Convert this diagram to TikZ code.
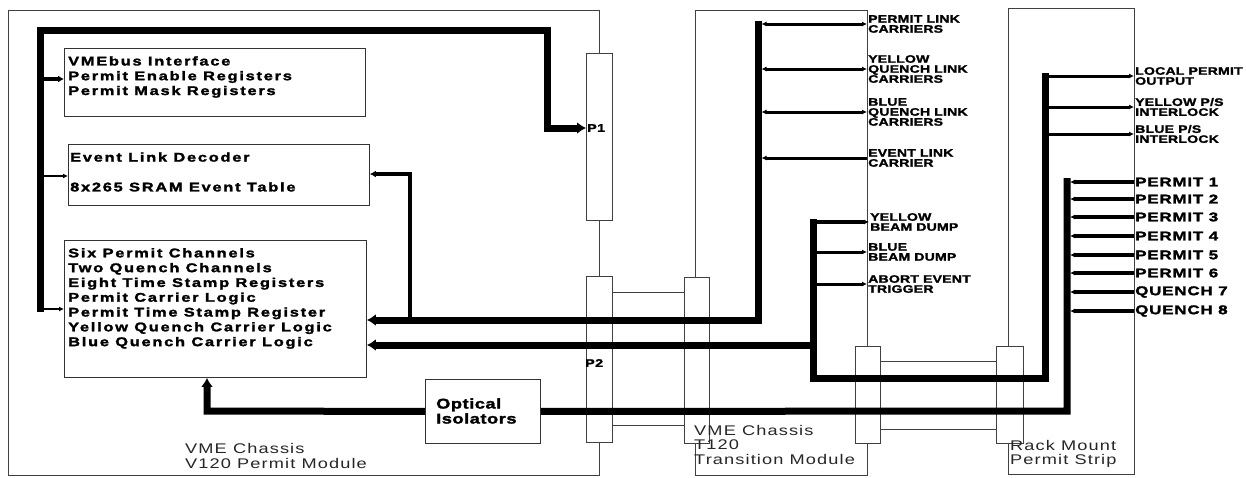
\documentclass[tikz,border=0pt]{standalone}
\usepackage{fontspec}
\setmainfont{Liberation Sans}
\newfontfamily\blkfont{Liberation Sans}[FakeStretch=1.3,LetterSpace=14,BoldFeatures={FakeBold=2}]
\newfontfamily\optfont{Liberation Sans}[FakeStretch=1.3,LetterSpace=4,BoldFeatures={FakeBold=2}]
\newfontfamily\labfont{Liberation Sans}[FakeStretch=1.3,LetterSpace=2,BoldFeatures={FakeBold=1.8}]
\newfontfamily\prmfont{Liberation Sans}[FakeStretch=1.35,LetterSpace=6,BoldFeatures={FakeBold=2.2}]
\newfontfamily\chsfont{Liberation Sans}[FakeStretch=1.3,LetterSpace=8]
\usetikzlibrary{arrows.meta}
\begin{document}
\begin{tikzpicture}[x=1pt,y=-1pt,
  frame/.style={draw=black!75,line width=0.8pt},
  box/.style={draw=black!80,fill=white,line width=0.9pt,inner sep=0pt,anchor=north west},
  bus/.style={line width=7pt},
  medline/.style={line width=3.5pt},
  brline/.style={line width=3pt},
  thinline/.style={line width=1.8pt},
  big/.tip={Latex[length=9pt,width=12pt]},
  med/.tip={Latex[length=6pt,width=7pt]},
  sm/.tip={Latex[length=5pt,width=5pt]},
  blktxt/.style={font=\blkfont\bfseries\fontsize{12.6}{14.8}\selectfont,align=left,inner sep=0pt,anchor=west},
  labtxt/.style={font=\labfont\bfseries\fontsize{10.8}{10}\selectfont,align=left,inner sep=1pt,anchor=west},
  prmtxt/.style={font=\prmfont\bfseries\fontsize{12.6}{12}\selectfont,inner sep=1pt,anchor=west},
  chstxt/.style={font=\chsfont\fontsize{14}{14.5}\selectfont,text=black!85,align=left,inner sep=0pt,anchor=west},
]
\useasboundingbox (0,0) rectangle (1246,477);
% outer chassis frames
\node[box,fill=none,draw=black!75,minimum width=591pt,minimum height=465pt] (v120) at (8,10) {};
\node[box,fill=none,draw=black!75,minimum width=172pt,minimum height=465pt] (t120) at (695,10) {};
\node[box,fill=none,draw=black!75,minimum width=126pt,minimum height=466pt] (rack) at (1008,8) {};
% connectors
\node[box,draw=black!75,minimum width=26pt,minimum height=167pt] (p1) at (586,53) {};
\node[box,draw=black!75,minimum width=26pt,minimum height=166pt] (p2) at (586,276) {};
\node[box,draw=black!75,minimum width=25pt,minimum height=166pt] (tl) at (684,277) {};
\node[box,draw=black!75,minimum width=25pt,minimum height=97pt] (tr) at (855,346) {};
\node[box,draw=black!75,minimum width=27pt,minimum height=97pt] (rl) at (996,346) {};
\coordinate (k1) at (0,292); \coordinate (k2) at (0,425);
\coordinate (k3) at (0,361); \coordinate (k4) at (0,429);
\draw[frame] (p2.east |- k1) -- (tl.west |- k1);
\draw[frame] (p2.east |- k2) -- (tl.west |- k2);
\draw[frame] (tr.east |- k3) -- (rl.west |- k3);
\draw[frame] (tr.east |- k4) -- (rl.west |- k4);
% inner boxes
\node[box,minimum width=301pt,minimum height=68pt] (vme) at (64,48) {};
\node[box,minimum width=301pt,minimum height=61pt] (evt) at (68,144) {};
\node[box,minimum width=302pt,minimum height=137pt] (six) at (64,240) {};
\node[box,minimum width=115pt,minimum height=64pt] (opt) at (425,379) {};
% box texts
\node[blktxt] (vmet) at (68,77) {VMEbus Interface\\Permit Enable Registers\\Permit Mask Registers};
\node[blktxt] (evtt) at (70,172) {Event Link Decoder\\[15pt]8x265 SRAM Event Table};
\node[blktxt] (sixt) at (68,298.5) {Six Permit Channels\\Two Quench Channels\\Eight Time Stamp Registers\\Permit Carrier Logic\\Permit Time Stamp Register\\Yellow Quench Carrier Logic\\Blue Quench Carrier Logic};
\node[font=\optfont\bfseries\fontsize{14}{15}\selectfont,align=left,inner sep=0pt,anchor=west] (optt) at (436,411) {Optical\\Isolators};
\node[font=\optfont\bfseries\fontsize{11}{11}\selectfont,inner sep=0pt,anchor=west] (p1t) at (587,128) {P1};
\node[font=\optfont\bfseries\fontsize{11}{11}\selectfont,inner sep=0pt,anchor=west] (p2t) at (585,363) {P2};
% right labels
\node[labtxt] (plc) at (867,24) {PERMIT LINK\\CARRIERS};
\node[labtxt] (yql) at (867,69) {YELLOW\\QUENCH LINK\\CARRIERS};
\node[labtxt] (bql) at (867,112) {BLUE\\QUENCH LINK\\CARRIERS};
\node[labtxt] (elc) at (867,158) {EVENT LINK\\CARRIER};
\node[labtxt] (ybd) at (869,222) {YELLOW\\BEAM DUMP};
\node[labtxt] (bbd) at (867,252) {BLUE\\BEAM DUMP};
\node[labtxt] (aet) at (867,284) {ABORT EVENT\\TRIGGER};
\node[labtxt] (lpo) at (1134,76) {LOCAL PERMIT\\OUTPUT};
\node[labtxt] (yps) at (1134,107) {YELLOW P/S\\INTERLOCK};
\node[labtxt] (bps) at (1134,134) {BLUE P/S\\INTERLOCK};
\node[prmtxt] (pm1) at (1134,182) {PERMIT 1};
\node[prmtxt] (pm2) at (1134,199) {PERMIT 2};
\node[prmtxt] (pm3) at (1134,217) {PERMIT 3};
\node[prmtxt] (pm4) at (1134,236) {PERMIT 4};
\node[prmtxt] (pm5) at (1134,255) {PERMIT 5};
\node[prmtxt] (pm6) at (1134,273) {PERMIT 6};
\node[prmtxt] (qn7) at (1134,292) {QUENCH 7};
\node[prmtxt] (qn8) at (1134,311) {QUENCH 8};
% chassis labels
\node[chstxt] (v120t) at (185,456) {VME Chassis\\V120 Permit Module};
\node[chstxt] (t120t) at (694,444.5) {VME Chassis\\T120\\Transition Module};
\node[chstxt] (rackt) at (1010,454) {Rack Mount\\Permit Strip};
% left bus to P1
\coordinate (la1) at (40,312); \coordinate (la2) at (40,30);
\coordinate (la3) at (547,30); \coordinate (la4) at (547,128);
\draw[bus,-{big}] (la1) -- (la2) -- (la3) -- (la4) -- (p1.west |- la4);
\coordinate (lv) at (40,79); \coordinate (le) at (40,176); \coordinate (ls) at (40,309);
\draw[medline,-{med}] (lv) -- (vme.west |- lv);
\draw[thinline,-{sm}] (le) -- (evt.west |- le);
\draw[thinline,-{sm}] (ls) -- (six.west |- ls);
% event table feed
\coordinate (ea) at (410,320); \coordinate (eb) at (410,174);
\draw[medline,-{med}] (ea) -- (eb) -- (evt.east |- eb);
% bus A (permit/quench link carriers)
\coordinate (ca1) at (758,20.5); \coordinate (ca2) at (758,320);
\draw[bus,-{big}] (ca1) -- (ca2) -- (six.east |- ca2);
\draw[brline,{sm}-{sm},shorten <=3.5pt] (ca1 |- plc.west) -- (plc.west);
\draw[brline,{sm}-{sm},shorten <=3.5pt] (ca1 |- yql.west) -- (yql.west);
\draw[brline,{sm}-{sm},shorten <=3.5pt] (ca1 |- bql.west) -- (bql.west);
\draw[brline,{sm}-,shorten <=3.5pt] (ca1 |- elc.west) -- (elc.west);
% bus B (beam dump / local permit)
\coordinate (cb1) at (813,219); \coordinate (cb2) at (813,378);
\coordinate (cb3) at (1045,378); \coordinate (cb4) at (1045,73);
\coordinate (cb0) at (813,345);
\draw[bus] (cb1) -- (cb2) -- (cb3) -- (cb4);
\draw[bus,-{big}] (cb0) -- (six.east |- cb0);
\draw[medline,-{sm}] (cb1 |- ybd.west) -- (ybd.west);
\draw[brline,-{sm}] (cb1 |- bbd.west) -- (bbd.west);
\draw[brline,-{sm}] (cb1 |- aet.west) -- (aet.west);
\draw[brline,-{sm}] (cb4 |- lpo.west) -- (lpo.west);
\draw[brline,-{sm}] (cb4 |- yps.west) -- (yps.west);
\draw[brline,-{sm}] (cb4 |- bps.west) -- (bps.west);
% optical isolator bus
\coordinate (cd1) at (1067,178); \coordinate (cd2) at (1067,411);
\draw[bus] (opt.east) -- (cd2) -- (cd1);
\coordinate (ce) at (207,411);
\draw[bus,-{big}] (opt.west) -- (ce) -- (ce |- six.south);
\foreach \n in {pm1,pm2,pm3,pm4,pm5,pm6,qn7,qn8}
  \draw[medline,-{sm},shorten >=3pt] (\n.west) -- (cd1 |- \n.west);
\end{tikzpicture}
\end{document}
